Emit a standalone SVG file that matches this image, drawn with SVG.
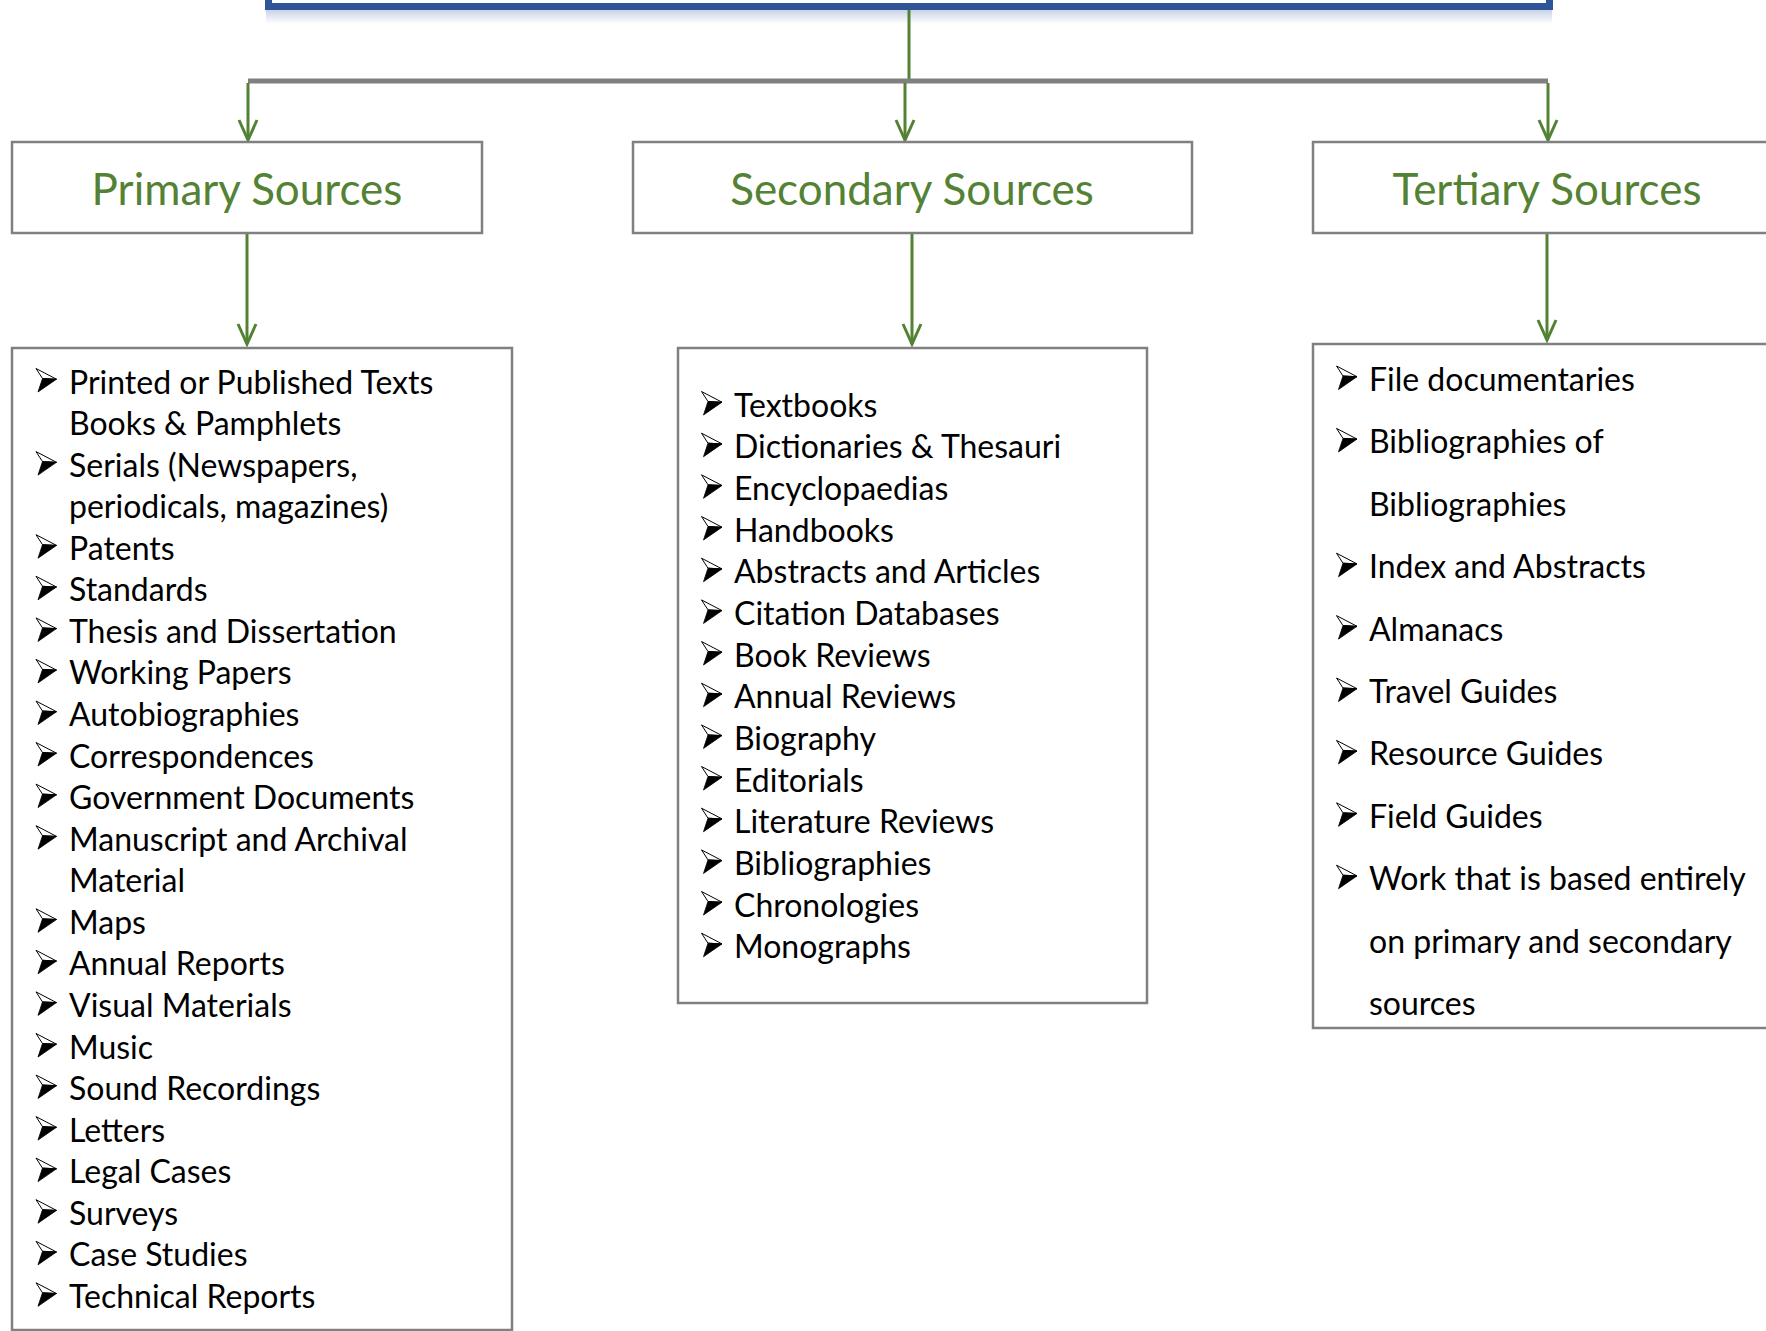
<svg xmlns="http://www.w3.org/2000/svg" xmlns:xlink="http://www.w3.org/1999/xlink" width="1766" height="1331" viewBox="0 0 1766 1331">
<style>
.box{fill:#fff;stroke:#808080;stroke-width:2.5}
.hdr{font-family:Lato,"Liberation Sans",sans-serif;font-size:44px;fill:#548235;text-anchor:middle}
.it{font-family:Lato,"Liberation Sans",sans-serif;font-size:32px;fill:#000}
.conn{stroke:#548235;stroke-width:3;fill:none}
</style>
<defs>
<linearGradient id="sh" x1="0" y1="0" x2="0" y2="1">
<stop offset="0" stop-color="#c9d3e6"/>
<stop offset="1" stop-color="#ffffff"/>
</linearGradient>
<marker id="ah" viewBox="-24 -12 28 24" markerWidth="28" markerHeight="24" refX="0" refY="0" orient="auto" markerUnits="userSpaceOnUse" overflow="visible">
<path d="M -20 -9 L 0 0 L -20 9" fill="none" stroke="#548235" stroke-width="3" stroke-linejoin="miter"/>
</marker>
<g id="bul">
<path d="M 0.5 0.5 L 21 11.2 L 7 10.5 Z" fill="#fff" stroke="#000" stroke-width="1" stroke-linejoin="round"/>
<path d="M 7 10.5 L 21 11.2 L 2.5 24 Z" fill="#000" stroke="#000" stroke-width="0.8" stroke-linejoin="round"/>
</g>
</defs>

<g id="root">
<rect x="266" y="10" width="1286" height="14" fill="url(#sh)"/>
<rect x="268.5" y="-100" width="1281" height="106.5" fill="#fff" stroke="#2f5597" stroke-width="7"/>
</g>

<g id="connectors">
<line class="conn" x1="909" y1="10" x2="909" y2="81"/>
<line x1="248" y1="81" x2="1548" y2="81" stroke="#808080" stroke-width="5"/>
<line class="conn" x1="248" y1="83" x2="248" y2="140" marker-end="url(#ah)"/>
<line class="conn" x1="905" y1="83" x2="905" y2="140" marker-end="url(#ah)"/>
<line class="conn" x1="1548" y1="83" x2="1548" y2="140" marker-end="url(#ah)"/>
<line class="conn" x1="247" y1="234" x2="247" y2="344" marker-end="url(#ah)"/>
<line class="conn" x1="912" y1="234" x2="912" y2="344" marker-end="url(#ah)"/>
<line class="conn" x1="1547" y1="234" x2="1547" y2="340" marker-end="url(#ah)"/>
</g>

<g id="primary-header">
<rect class="box" x="12" y="142" width="470" height="91"/>
<text class="hdr" x="247" y="205">Primary Sources</text>
</g>
<g id="secondary-header">
<rect class="box" x="633" y="142" width="559" height="91"/>
<text class="hdr" x="912" y="205">Secondary Sources</text>
</g>
<g id="tertiary-header">
<rect class="box" x="1313" y="142" width="470" height="91"/>
<text class="hdr" x="1547" y="205">Tertiary Sources</text>
</g>

<g id="primary-list">
<rect class="box" x="12" y="348" width="500" height="982"/>
<use xlink:href="#bul" href="#bul" x="35.5" y="368"/><text class="it" x="69" y="393.5">Printed or Published Texts</text>
<text class="it" x="69" y="435.1">Books &amp; Pamphlets</text>
<use xlink:href="#bul" href="#bul" x="35.5" y="451.1"/><text class="it" x="69" y="476.6">Serials (Newspapers,</text>
<text class="it" x="69" y="518.2">periodicals, magazines)</text>
<use xlink:href="#bul" href="#bul" x="35.5" y="534.2"/><text class="it" x="69" y="559.7">Patents</text>
<use xlink:href="#bul" href="#bul" x="35.5" y="575.8"/><text class="it" x="69" y="601.3">Standards</text>
<use xlink:href="#bul" href="#bul" x="35.5" y="617.4"/><text class="it" x="69" y="642.9">Thesis and Dissertation</text>
<use xlink:href="#bul" href="#bul" x="35.5" y="658.9"/><text class="it" x="69" y="684.4">Working Papers</text>
<use xlink:href="#bul" href="#bul" x="35.5" y="700.5"/><text class="it" x="69" y="726">Autobiographies</text>
<use xlink:href="#bul" href="#bul" x="35.5" y="742"/><text class="it" x="69" y="767.5">Correspondences</text>
<use xlink:href="#bul" href="#bul" x="35.5" y="783.6"/><text class="it" x="69" y="809.1">Government Documents</text>
<use xlink:href="#bul" href="#bul" x="35.5" y="825.2"/><text class="it" x="69" y="850.7">Manuscript and Archival</text>
<text class="it" x="69" y="892.2">Material</text>
<use xlink:href="#bul" href="#bul" x="35.5" y="908.3"/><text class="it" x="69" y="933.8">Maps</text>
<use xlink:href="#bul" href="#bul" x="35.5" y="949.8"/><text class="it" x="69" y="975.3">Annual Reports</text>
<use xlink:href="#bul" href="#bul" x="35.5" y="991.4"/><text class="it" x="69" y="1016.9">Visual Materials</text>
<use xlink:href="#bul" href="#bul" x="35.5" y="1033"/><text class="it" x="69" y="1058.5">Music</text>
<use xlink:href="#bul" href="#bul" x="35.5" y="1074.5"/><text class="it" x="69" y="1100">Sound Recordings</text>
<use xlink:href="#bul" href="#bul" x="35.5" y="1116.1"/><text class="it" x="69" y="1141.6">Letters</text>
<use xlink:href="#bul" href="#bul" x="35.5" y="1157.6"/><text class="it" x="69" y="1183.1">Legal Cases</text>
<use xlink:href="#bul" href="#bul" x="35.5" y="1199.2"/><text class="it" x="69" y="1224.7">Surveys</text>
<use xlink:href="#bul" href="#bul" x="35.5" y="1240.8"/><text class="it" x="69" y="1266.3">Case Studies</text>
<use xlink:href="#bul" href="#bul" x="35.5" y="1282.3"/><text class="it" x="69" y="1307.8">Technical Reports</text>
</g>

<g id="secondary-list">
<rect class="box" x="678" y="348" width="469" height="655"/>
<use xlink:href="#bul" href="#bul" x="701" y="391"/><text class="it" x="734" y="416.5">Textbooks</text>
<use xlink:href="#bul" href="#bul" x="701" y="432.7"/><text class="it" x="734" y="458.2">Dictionaries &amp; Thesauri</text>
<use xlink:href="#bul" href="#bul" x="701" y="474.3"/><text class="it" x="734" y="499.8">Encyclopaedias</text>
<use xlink:href="#bul" href="#bul" x="701" y="516"/><text class="it" x="734" y="541.5">Handbooks</text>
<use xlink:href="#bul" href="#bul" x="701" y="557.7"/><text class="it" x="734" y="583.2">Abstracts and Articles</text>
<use xlink:href="#bul" href="#bul" x="701" y="599.4"/><text class="it" x="734" y="624.9">Citation Databases</text>
<use xlink:href="#bul" href="#bul" x="701" y="641"/><text class="it" x="734" y="666.5">Book Reviews</text>
<use xlink:href="#bul" href="#bul" x="701" y="682.7"/><text class="it" x="734" y="708.2">Annual Reviews</text>
<use xlink:href="#bul" href="#bul" x="701" y="724.4"/><text class="it" x="734" y="749.9">Biography</text>
<use xlink:href="#bul" href="#bul" x="701" y="766"/><text class="it" x="734" y="791.5">Editorials</text>
<use xlink:href="#bul" href="#bul" x="701" y="807.7"/><text class="it" x="734" y="833.2">Literature Reviews</text>
<use xlink:href="#bul" href="#bul" x="701" y="849.4"/><text class="it" x="734" y="874.9">Bibliographies</text>
<use xlink:href="#bul" href="#bul" x="701" y="891"/><text class="it" x="734" y="916.5">Chronologies</text>
<use xlink:href="#bul" href="#bul" x="701" y="932.7"/><text class="it" x="734" y="958.2">Monographs</text>
</g>

<g id="tertiary-list">
<rect class="box" x="1313" y="344" width="480" height="684"/>
<use xlink:href="#bul" href="#bul" x="1336" y="365.5"/><text class="it" x="1369" y="391">File documentaries</text>
<use xlink:href="#bul" href="#bul" x="1336" y="427.9"/><text class="it" x="1369" y="453.4">Bibliographies of</text>
<text class="it" x="1369" y="515.8">Bibliographies</text>
<use xlink:href="#bul" href="#bul" x="1336" y="552.7"/><text class="it" x="1369" y="578.2">Index and Abstracts</text>
<use xlink:href="#bul" href="#bul" x="1336" y="615.1"/><text class="it" x="1369" y="640.6">Almanacs</text>
<use xlink:href="#bul" href="#bul" x="1336" y="677.5"/><text class="it" x="1369" y="703">Travel Guides</text>
<use xlink:href="#bul" href="#bul" x="1336" y="739.9"/><text class="it" x="1369" y="765.4">Resource Guides</text>
<use xlink:href="#bul" href="#bul" x="1336" y="802.3"/><text class="it" x="1369" y="827.8">Field Guides</text>
<use xlink:href="#bul" href="#bul" x="1336" y="864.7"/><text class="it" x="1369" y="890.2">Work that is based entirely</text>
<text class="it" x="1369" y="952.6">on primary and secondary</text>
<text class="it" x="1369" y="1015">sources</text>
</g>
</svg>
